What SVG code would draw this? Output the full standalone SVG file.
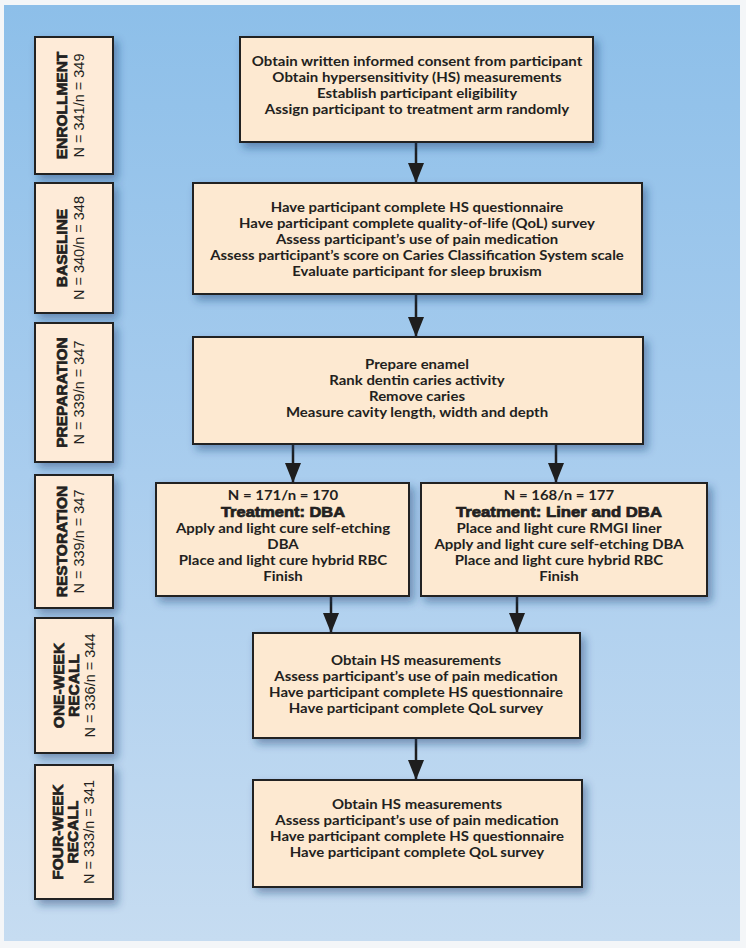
<svg xmlns="http://www.w3.org/2000/svg" width="746" height="948" viewBox="0 0 746 948">
<defs>
<linearGradient id="bg" x1="0" y1="0" x2="0" y2="1">
<stop offset="0" stop-color="#8dbfe9"/>
<stop offset="0.5" stop-color="#a9cdee"/>
<stop offset="1" stop-color="#c6dcf1"/>
</linearGradient>
<filter id="sh" x="-10%" y="-10%" width="130%" height="140%">
<feDropShadow dx="4" dy="5" stdDeviation="4" flood-color="#1d3e6e" flood-opacity="0.45"/>
</filter>
<marker id="ah" markerUnits="userSpaceOnUse" markerWidth="22" markerHeight="16" refX="20" refY="8" orient="auto" viewBox="0 0 22 16">
<path d="M0,0 L20,8 L0,16 Z" fill="#1e1e1e"/>
</marker>
<style>
.box{fill:#fde9d1;stroke:#222;stroke-width:2;filter:url(#sh)}
.lbl{fill:#feebd8;stroke:#222;stroke-width:2;filter:url(#sh)}
.t{font-family:Lato,"Liberation Sans",sans-serif;font-weight:700;font-size:13.3px;fill:#231f20;text-anchor:middle}
.b{font-family:"Liberation Sans",Arial,sans-serif;font-weight:900;font-size:14.3px;fill:#231f20;stroke:#231f20;stroke-width:0.7;text-anchor:middle}
.hd{font-family:"Liberation Sans",Arial,sans-serif;font-weight:bold;font-size:15.5px;fill:#231f20;stroke:#231f20;stroke-width:0.7;text-anchor:middle}
.n{font-family:"Liberation Sans",Arial,sans-serif;font-size:14.5px;fill:#231f20;text-anchor:middle}
.c{fill:none;stroke:#1e1e1e;stroke-width:2.5;marker-end:url(#ah)}
</style>
</defs>
<rect x="0" y="0" width="746" height="948" fill="#f4f6f8"/>
<rect x="4" y="5" width="736" height="936" fill="url(#bg)"/>

<g id="lbl-enrollment">
<rect class="lbl" x="35" y="37" width="78" height="137"/>
<text class="hd" transform="translate(67,105.5) rotate(-90)">ENROLLMENT</text>
<text class="n" transform="translate(84,105.5) rotate(-90)">N = 341/n = 349</text>
</g>
<g id="lbl-baseline">
<rect class="lbl" x="35" y="183" width="78" height="130"/>
<text class="hd" transform="translate(67,248) rotate(-90)">BASELINE</text>
<text class="n" transform="translate(84,248) rotate(-90)">N = 340/n = 348</text>
</g>
<g id="lbl-preparation">
<rect class="lbl" x="35" y="323" width="78" height="139"/>
<text class="hd" transform="translate(67,392.5) rotate(-90)">PREPARATION</text>
<text class="n" transform="translate(84,392.5) rotate(-90)">N = 339/n = 347</text>
</g>
<g id="lbl-restoration">
<rect class="lbl" x="35" y="475" width="78" height="133"/>
<text class="hd" transform="translate(67,541.5) rotate(-90)">RESTORATION</text>
<text class="n" transform="translate(84,541.5) rotate(-90)">N = 339/n = 347</text>
</g>
<g id="lbl-oneweek">
<rect class="lbl" x="35" y="618" width="78" height="135"/>
<text class="hd" transform="translate(64,685.5) rotate(-90)">ONE-WEEK</text>
<text class="hd" transform="translate(79,685.5) rotate(-90)">RECALL</text>
<text class="n" transform="translate(95,685.5) rotate(-90)">N = 336/n = 344</text>
</g>
<g id="lbl-fourweek">
<rect class="lbl" x="35" y="765" width="78" height="134"/>
<text class="hd" transform="translate(63,832) rotate(-90)">FOUR-WEEK</text>
<text class="hd" transform="translate(78,832) rotate(-90)">RECALL</text>
<text class="n" transform="translate(94,832) rotate(-90)">N = 333/n = 341</text>
</g>

<g id="connectors">
<line class="c" x1="416" y1="142" x2="416" y2="183"/>
<line class="c" x1="416" y1="294" x2="416" y2="337"/>
<line class="c" x1="293" y1="444" x2="293" y2="483"/>
<line class="c" x1="556" y1="444" x2="556" y2="483"/>
<line class="c" x1="331" y1="596" x2="331" y2="633"/>
<line class="c" x1="517" y1="596" x2="517" y2="633"/>
<line class="c" x1="416" y1="738" x2="416" y2="780"/>
</g>

<g id="enrollment">
<rect class="box" x="240" y="37" width="353" height="105"/>
<g transform="matrix(1.13,0,0,1,-54.21,0)">
<text class="t" x="417" y="66">Obtain written informed consent from participant</text>
<text class="t" x="417" y="82">Obtain hypersensitivity (HS) measurements</text>
<text class="t" x="417" y="98">Establish participant eligibility</text>
<text class="t" x="417" y="114">Assign participant to treatment arm randomly</text>
</g>
</g>
<g id="baseline">
<rect class="box" x="193" y="183" width="449" height="111"/>
<g transform="matrix(1.12,0,0,1,-50.04,0)">
<text class="t" x="417" y="212">Have participant complete HS questionnaire</text>
<text class="t" x="417" y="228">Have participant complete quality-of-life (QoL) survey</text>
<text class="t" x="417" y="244">Assess participant’s use of pain medication</text>
<text class="t" x="417" y="260">Assess participant’s score on Caries Classification System scale</text>
<text class="t" x="417" y="276">Evaluate participant for sleep bruxism</text>
</g>
</g>
<g id="preparation">
<rect class="box" x="193" y="337" width="450" height="107"/>
<g transform="matrix(1.125,0,0,1,-52.125,0)">
<text class="t" x="417" y="369">Prepare enamel</text>
<text class="t" x="417" y="385">Rank dentin caries activity</text>
<text class="t" x="417" y="401">Remove caries</text>
<text class="t" x="417" y="417">Measure cavity length, width and depth</text>
</g>
</g>
<g id="restoration-dba">
<rect class="box" x="156" y="483" width="253" height="113"/>
<text class="b" x="283" y="517" textLength="124" lengthAdjust="spacingAndGlyphs">Treatment: DBA</text>
<g transform="matrix(1.125,0,0,1,-35.375,0)">
<text class="t" x="283" y="500">N = 171/n = 170</text>
<text class="t" x="283" y="533">Apply and light cure self-etching</text>
<text class="t" x="283" y="549">DBA</text>
<text class="t" x="283" y="565">Place and light cure hybrid RBC</text>
<text class="t" x="283" y="581">Finish</text>
</g>
</g>
<g id="restoration-liner">
<rect class="box" x="421" y="483" width="286" height="113"/>
<text class="b" x="559" y="517" textLength="206" lengthAdjust="spacingAndGlyphs">Treatment: Liner and DBA</text>
<g transform="matrix(1.125,0,0,1,-69.875,0)">
<text class="t" x="559" y="500">N = 168/n = 177</text>
<text class="t" x="559" y="533">Place and light cure RMGI liner</text>
<text class="t" x="559" y="549">Apply and light cure self-etching DBA</text>
<text class="t" x="559" y="565">Place and light cure hybrid RBC</text>
<text class="t" x="559" y="581">Finish</text>
</g>
</g>
<g id="one-week">
<rect class="box" x="253" y="633" width="327" height="105"/>
<g transform="matrix(1.125,0,0,1,-52,0)">
<text class="t" x="416" y="665">Obtain HS measurements</text>
<text class="t" x="416" y="681">Assess participant’s use of pain medication</text>
<text class="t" x="416" y="697">Have participant complete HS questionnaire</text>
<text class="t" x="416" y="713">Have participant complete QoL survey</text>
</g>
</g>
<g id="four-week">
<rect class="box" x="253" y="780" width="329" height="107"/>
<g transform="matrix(1.125,0,0,1,-52.125,0)">
<text class="t" x="417" y="809">Obtain HS measurements</text>
<text class="t" x="417" y="825">Assess participant’s use of pain medication</text>
<text class="t" x="417" y="841">Have participant complete HS questionnaire</text>
<text class="t" x="417" y="857">Have participant complete QoL survey</text>
</g>
</g>
</svg>
